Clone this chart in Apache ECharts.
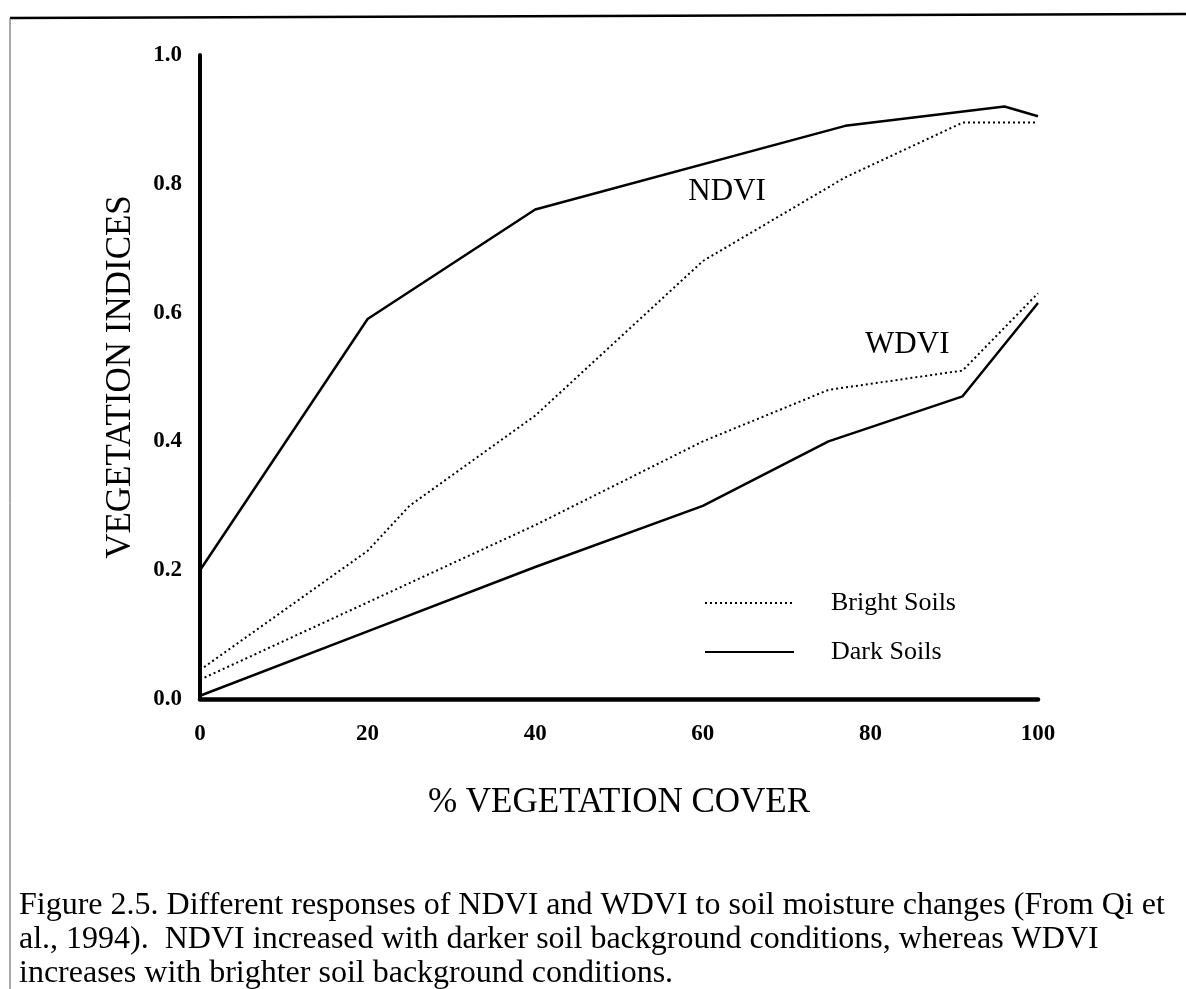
<!DOCTYPE html>
<html>
<head>
<meta charset="utf-8">
<script src="https://cdn.jsdelivr.net/npm/echarts@6/dist/echarts.min.js"></script>
<style>
  html, body { margin: 0; padding: 0; background: #fff; overflow: hidden; }
  #chart { width: 1186px; height: 989px; }
</style>
</head>
<body>
<div id="chart"></div>
<script>
// % vegetation cover vs. index value, one array per curve
const ndviDark   = [[0, 0.20], [20, 0.59], [40, 0.76], [77, 0.89], [96, 0.92], [100, 0.905]];
const ndviBright = [[0, 0.045], [20, 0.23], [25, 0.30], [40, 0.44], [60, 0.68], [77, 0.81], [91, 0.895], [100, 0.895]];
const wdviBright = [[0, 0.03], [20, 0.15], [40, 0.27], [60, 0.40], [75, 0.48], [91, 0.51], [100, 0.63]];
const wdviDark   = [[0, 0.005], [20, 0.105], [40, 0.205], [60, 0.30], [75, 0.40], [91, 0.47], [100, 0.615]];

const xTicks = [0, 20, 40, 60, 80, 100];
const yTicks = [0.0, 0.2, 0.4, 0.6, 0.8, 1.0];

// curve names, placed in data coordinates
const curveLabels = [
  { text: 'NDVI', x: 62.9, y: 0.787 },
  { text: 'WDVI', x: 84.4, y: 0.55 }
];

const captionLines = [
  'Figure 2.5. Different responses of NDVI and WDVI to soil moisture changes (From Qi et',
  'al., 1994).  NDVI increased with darker soil background conditions, whereas WDVI',
  'increases with brighter soil background conditions.'
];

const serif = '"Liberation Serif", "DejaVu Serif", serif';
const dotted = [2, 3];

function lineSeries(name, data, type) {
  return {
    name: name,
    type: 'line',
    data: data,
    symbol: 'none',
    showSymbol: false,
    silent: true,
    animation: false,
    itemStyle: { color: '#000' },
    lineStyle: { color: '#000', width: type === 'solid' ? 2.5 : 2, type: type }
  };
}

const chart = echarts.init(document.getElementById('chart'), null, { renderer: 'canvas' });

const series = [
  lineSeries('Dark Soils', ndviDark, 'solid'),
  lineSeries('Bright Soils', ndviBright, dotted),
  lineSeries('Bright Soils', wdviBright, dotted),
  lineSeries('Dark Soils', wdviDark, 'solid')
];

series.push({
  type: 'scatter',
  symbolSize: 0,
  silent: true,
  animation: false,
  itemStyle: { color: '#000', opacity: 1 },
  data: curveLabels.map(d => ({ value: [d.x, d.y], name: d.text })),
  label: {
    show: true,
    formatter: p => p.name,
    position: 'inside',
    color: '#000',
    opacity: 1,
    textBorderWidth: 0,
    fontFamily: serif,
    fontSize: 31
  }
});

chart.setOption({
  backgroundColor: '#fff',
  animation: false,
  grid: { left: 200, right: 148, top: 55, bottom: 290, containLabel: false },
  legend: {
    data: ['Bright Soils', 'Dark Soils'],
    orient: 'vertical',
    left: 699,
    top: 585,
    itemWidth: 89,
    itemHeight: 14,
    itemGap: 23,
    selectedMode: false,
    itemStyle: { opacity: 0 },
    lineStyle: { width: 2 },
    textStyle: { color: '#000', fontFamily: serif, fontSize: 26, lineHeight: 26, padding: [0, 0, 0, 32] }
  },
  xAxis: {
    type: 'value',
    min: 0,
    max: 100,
    interval: 20,
    name: '% VEGETATION COVER',
    nameLocation: 'middle',
    nameGap: 86,
    nameTextStyle: { color: '#000', fontFamily: serif, fontSize: 35 },
    axisLine: { show: true, lineStyle: { color: '#000', width: 4.5 } },
    axisTick: { show: false },
    splitLine: { show: false },
    axisLabel: {
      color: '#000',
      fontFamily: serif,
      fontWeight: 'bold',
      fontSize: 23,
      margin: 24,
      formatter: v => (xTicks.includes(v) ? String(v) : '')
    }
  },
  yAxis: {
    type: 'value',
    min: 0,
    max: 1,
    interval: 0.2,
    name: 'VEGETATION INDICES',
    nameLocation: 'middle',
    nameRotate: 90,
    nameGap: 62,
    nameTextStyle: { color: '#000', fontFamily: serif, fontSize: 35 },
    axisLine: { show: true, lineStyle: { color: '#000', width: 4 } },
    axisTick: { show: false },
    splitLine: { show: false },
    axisLabel: {
      color: '#000',
      fontFamily: serif,
      fontWeight: 'bold',
      fontSize: 23,
      margin: 18,
      formatter: v => {
        const t = yTicks.find(k => Math.abs(k - v) < 1e-6);
        return t === undefined ? '' : t.toFixed(1);
      }
    }
  },
  graphic: [
    // page frame: top rule and left rule
    { type: 'line', shape: { x1: 10, y1: 18, x2: 1186, y2: 14 }, style: { stroke: '#000', lineWidth: 2.5 }, silent: true },
    { type: 'line', shape: { x1: 10, y1: 18, x2: 10, y2: 989 }, style: { stroke: '#555', lineWidth: 1 }, silent: true },
    ...captionLines.map((t, i) => ({
      type: 'text',
      left: 19,
      top: 890 + i * 34,
      silent: true,
      style: { text: t, fill: '#000', font: '32px ' + serif }
    }))
  ],
  series: series
});
</script>
</body>
</html>
